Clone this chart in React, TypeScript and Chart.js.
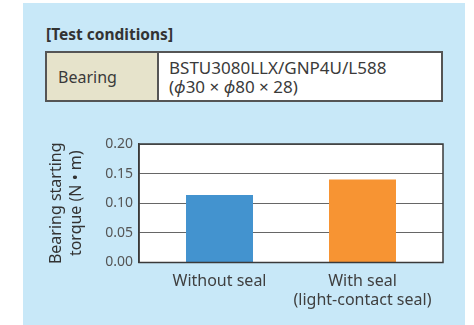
import React, { useEffect, useRef } from "react";
import { Chart, registerables } from "chart.js";

Chart.register(...registerables);

const categories: (string | string[])[] = ["Without seal", ["With seal", "(light-contact seal)"]];
const torque = [0.114, 0.14];
const barColors = ["#4393cf", "#f79433"];
const yTicks = [0, 0.05, 0.1, 0.15, 0.2];
const yTitle = ["Bearing starting", "torque (N • m)"];

const FONT = "'Noto Sans', 'DejaVu Sans', sans-serif";

export default function App() {
  const ref = useRef<HTMLCanvasElement>(null);

  useEffect(() => {
    if (!ref.current) return;
    const framePlugin = {
      id: "frame",
      beforeDraw(chart: any) {
        const { ctx, chartArea: a } = chart;
        ctx.save();
        ctx.fillStyle = "#ffffff";
        ctx.fillRect(a.left, a.top, a.right - a.left, a.bottom - a.top);
        ctx.restore();
      },
      afterDatasetsDraw(chart: any) {
        const { ctx, chartArea: a } = chart;
        ctx.save();
        ctx.strokeStyle = "#3a3a3a";
        ctx.lineWidth = 1.5;
        ctx.strokeRect(a.left, a.top, a.right - a.left, a.bottom - a.top);
        ctx.restore();
      },
    };
    const chart = new Chart(ref.current, {
      type: "bar",
      data: {
        datasets: [
          {
            data: torque.map((v, i) => ({ x: i, y: v })),
            backgroundColor: barColors,
            borderWidth: 0,
            barPercentage: 0.4685,
            categoryPercentage: 1,
          },
        ],
      },
      options: {
        animation: false,
        responsive: false,
        devicePixelRatio: 1,
        layout: { padding: { top: 24, right: 31, bottom: 0, left: 46 } },
        plugins: { legend: { display: false }, tooltip: { enabled: false } },
        scales: {
          x: {
            type: "linear",
            offset: false,
            min: -0.563,
            max: 1.563,
            afterBuildTicks: (scale: any) => {
              scale.ticks = categories.map((_, i) => ({ value: i }));
            },
            afterFit: (scale: any) => {
              scale.height = 62.5;
            },
            grid: { display: false, drawTicks: false, offset: false },
            border: { display: false },
            ticks: {
              maxRotation: 0,
              autoSkip: false,
              padding: 10,
              color: "#3f3f3f",
              font: { family: FONT, size: 16, lineHeight: 1.15 },
              callback: (_v: any, i: number) => categories[i],
            },
          },
          y: {
            min: 0,
            max: 0.2,
            afterBuildTicks: (scale: any) => {
              scale.ticks = yTicks.map((v) => ({ value: v }));
            },
            afterFit: (scale: any) => {
              scale.width = 93;
            },
            grid: { color: "#666666", lineWidth: 1, drawTicks: false },
            border: { display: true, color: "#3a3a3a", width: 1.5 },
            ticks: {
              padding: 6,
              color: "#555555",
              font: { family: FONT, size: 14 },
              callback: (v: any) => Number(v).toFixed(2),
            },
            title: {
              display: true,
              text: yTitle,
              color: "#333333",
              padding: 0,
              font: { family: FONT, size: 16, lineHeight: 1.25 },
            },
          },
        },
      },
      plugins: [framePlugin],
    } as any);
    return () => chart.destroy();
  }, []);

  const textColor = "#3a3a3a";

  return (
    <div style={{ position: "absolute", left: 0, top: 0, width: 474, height: 325, overflow: "hidden", background: "#ffffff", fontFamily: FONT }}>
      <div style={{ position: "absolute", left: 23, top: 3, width: 442, height: 322, background: "#c8e8f8" }} />
      <div style={{ position: "absolute", left: 46, top: 24, fontSize: 15.5, fontWeight: 700, color: "#333333", lineHeight: "20px", whiteSpace: "nowrap" }}>
        [Test conditions]
      </div>
      <div style={{ position: "absolute", left: 45, top: 51, width: 398, height: 51, boxSizing: "border-box", border: "2px solid #555555", display: "flex", background: "#ffffff" }}>
        <div style={{ width: 112, background: "#e6e3cb", borderRight: "2px solid #555555", display: "flex", alignItems: "center", paddingLeft: 11, fontSize: 16, color: textColor, boxSizing: "border-box" }}>
          Bearing
        </div>
        <div style={{ flex: 1, display: "flex", flexDirection: "column", justifyContent: "center", paddingLeft: 10, fontSize: 17, lineHeight: "19px", color: textColor }}>
          <div>BSTU3080LLX/GNP4U/L588</div>
          <div>(<i>ϕ</i>30 × <i>ϕ</i>80 × 28)</div>
        </div>
      </div>
      <canvas ref={ref} width={474} height={205} style={{ position: "absolute", left: 0, top: 120, display: "block" }} />
    </div>
  );
}
